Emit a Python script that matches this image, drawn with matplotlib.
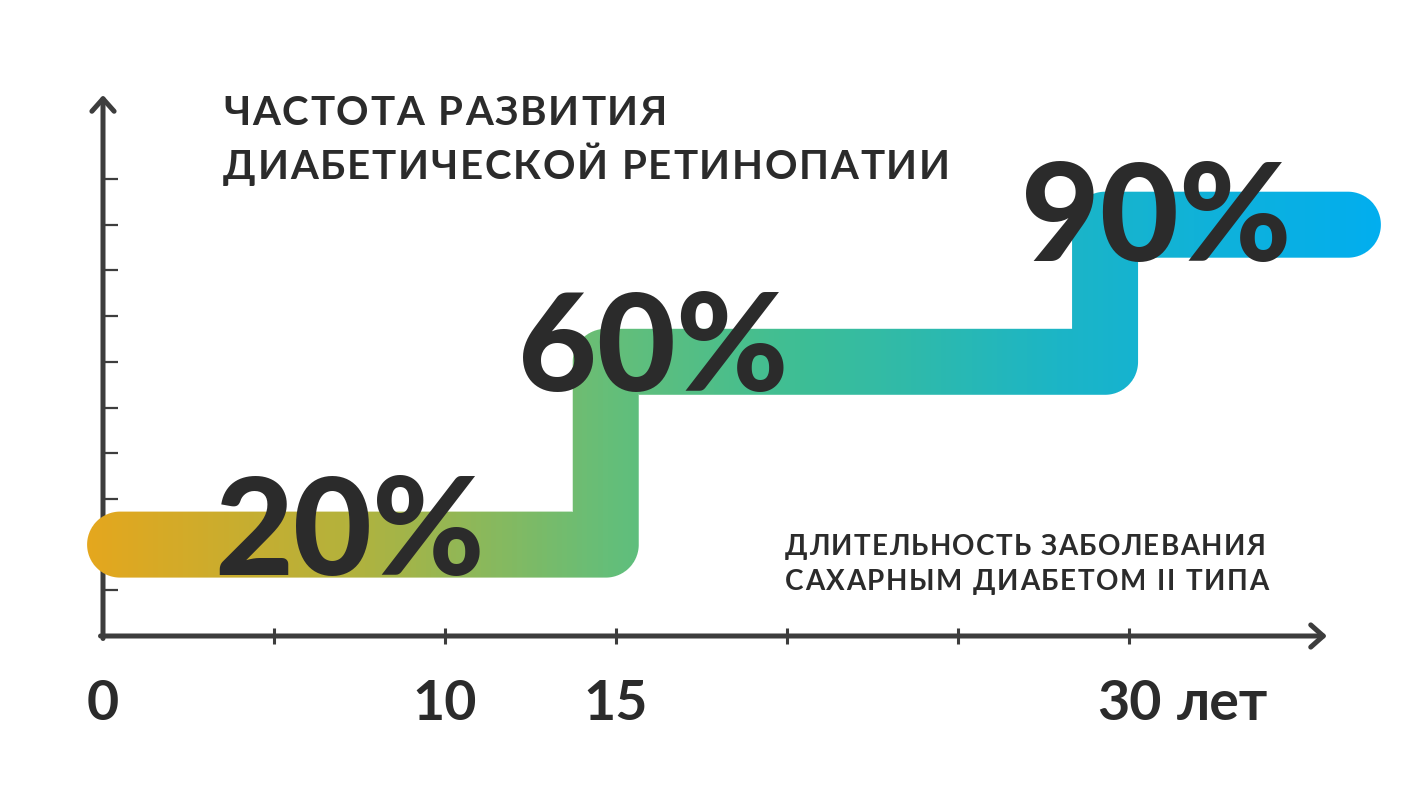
import numpy as np
import matplotlib
matplotlib.use("Agg")
import matplotlib.pyplot as plt
from matplotlib.colors import LinearSegmentedColormap
from matplotlib.transforms import IdentityTransform

# данные
step_x = [0.5, 14.7, 29.3, 36.4]      # годы: начало полосы, ступени, конец
levels = [20, 60, 90]                 # частота ретинопатии, %
pct_labels = ["20%", "60%", "90%"]
pct_x = [7.2, 16.1, 30.8]
pct_base = [13.3, 53.7, 82.0]
year_ticks = [5, 10, 15, 20, 25, 30]
year_labels = ["0", "10", "15", "30"]
year_label_x = [0, 10, 15, 30]
y_ticks = [10, 20, 30, 40, 50, 60, 70, 80, 90, 100]

title = ["ЧАСТОТА РАЗВИТИЯ", "ДИАБЕТИЧЕСКОЙ РЕТИНОПАТИИ"]
xlabel = ["ДЛИТЕЛЬНОСТЬ ЗАБОЛЕВАНИЯ", "САХАРНЫМ ДИАБЕТОМ II ТИПА"]

W, H = 1420, 799
dark = "#2B2B2B"
axis_col = "#3D3D3D"

fig = plt.figure(figsize=(W / 100, H / 100), dpi=100)
ax = fig.add_axes([0, 0, 1, 1])
x0, xs = 103, 34.2     # пикселей на год
y0, ys = 636, 4.57     # пикселей на процент
ax.set_xlim(-x0 / xs, (W - x0) / xs)
ax.set_ylim(-(H - y0) / ys, y0 / ys)
ax.set_facecolor("white")

# оси: сами линии рисуем стрелками, от спайнов остаются только засечки
ax.spines["left"].set_position(("data", 0))
ax.spines["bottom"].set_position(("data", 0))
for s in ax.spines:
    ax.spines[s].set_visible(False)
ax.set_xticks(year_ticks)
ax.set_xticklabels([])
ax.set_yticks(y_ticks)
ax.set_yticklabels([])
ax.tick_params(axis="x", direction="inout", length=12, width=2.2, color=axis_col)
ax.tick_params(axis="y", direction="in", length=11, width=1.6, color=axis_col)

arrow = dict(arrowstyle="->,head_length=0.45,head_width=0.4", lw=3.6,
             color=axis_col, shrinkA=0, shrinkB=0, mutation_scale=20)
ax.annotate("", xy=(0, (y0 - 95) / ys), xytext=(0, -2.5 / ys), arrowprops=arrow)
ax.annotate("", xy=((1327 - x0) / xs, 0), xytext=(-2.5 / xs, 0), arrowprops=arrow)

# ступенчатая полоса с градиентом
vx = [step_x[0], step_x[1], step_x[1], step_x[2], step_x[2], step_x[3]]
vy = [levels[0], levels[0], levels[1], levels[1], levels[2], levels[2]]
pts = ax.transData.transform(np.column_stack([vx, vy]))
half = 33
yy, xx = np.mgrid[0:H, 0:W] + 0.5
d = np.full((H, W), np.inf)
for (ax_, ay), (bx, by) in zip(pts[:-1], pts[1:]):
    dx, dy = bx - ax_, by - ay
    t = np.clip(((xx - ax_) * dx + (yy - ay) * dy) / (dx * dx + dy * dy), 0, 1)
    d = np.minimum(d, np.hypot(xx - ax_ - t * dx, yy - ay - t * dy))
alpha = np.clip(half - d + 0.5, 0, 1)

cmap = LinearSegmentedColormap.from_list("band", [
    (0.0, "#E4A71E"), (0.2, "#B4B23C"), (0.4, "#66BE78"),
    (0.55, "#3EBE95"), (0.75, "#1CB5C6"), (1.0, "#02AEEF")])
left = pts[:, 0].min() - half
right = pts[:, 0].max() + half
rgba = cmap(np.clip((xx - left) / (right - left), 0, 1))
rgba[..., 3] = alpha
ax.imshow(rgba, extent=(*ax.get_xlim(), *ax.get_ylim()), origin="lower",
          aspect="auto", interpolation="nearest", zorder=3)
ax.set_xlim(-x0 / xs, (W - x0) / xs)
ax.set_ylim(-(H - y0) / ys, y0 / ys)

# подписи процентов
for lab, px, py in zip(pct_labels, pct_x, pct_base):
    ax.text(px, py, lab, ha="center", va="baseline", fontsize=98,
            family="Lato", weight="black", color=dark, zorder=4)

# подписи годов
for lab, px in zip(year_labels, year_label_x):
    ax.text(px, -18.3, lab, ha="center", va="baseline", fontsize=40,
            family="Lato", weight="bold", color=dark)
ax.text(31.4, -18.3, "лет", ha="left", va="baseline", fontsize=40,
        family="Lato", weight="bold", color=dark)

renderer = fig.canvas.get_renderer()


def spaced_text(s, x_left, baseline, width, size, **kw):
    # текст с разрядкой: буквы по одной, чтобы строка заняла width пикселей
    y = H - baseline
    items = []
    for ch in s:
        if ch == " ":
            items.append(None)
        else:
            items.append(fig.text(0, y, ch, transform=IdentityTransform(),
                                  ha="left", va="baseline", fontsize=size, **kw))
    sp = 0.26 * size * 100 / 72
    ws = [it.get_window_extent(renderer).width if it else sp for it in items]
    track = (width - sum(ws)) / (len(items) - 1)
    cur = x_left
    for it, w in zip(items, ws):
        if it is not None:
            it.set_x(cur)
        cur += w + track


spaced_text(title[0], 223, 125, 444, 29, family="Lato", weight="bold", color=dark)
spaced_text(title[1], 223, 179, 727, 29, family="Lato", weight="bold", color=dark)
spaced_text(xlabel[0], 785, 555, 480, 20, family="Lato", weight="bold", color=dark)
spaced_text(xlabel[1], 785, 590, 483, 20, family="Lato", weight="bold", color=dark)

fig.savefig("out.png", dpi=100, facecolor="white")
